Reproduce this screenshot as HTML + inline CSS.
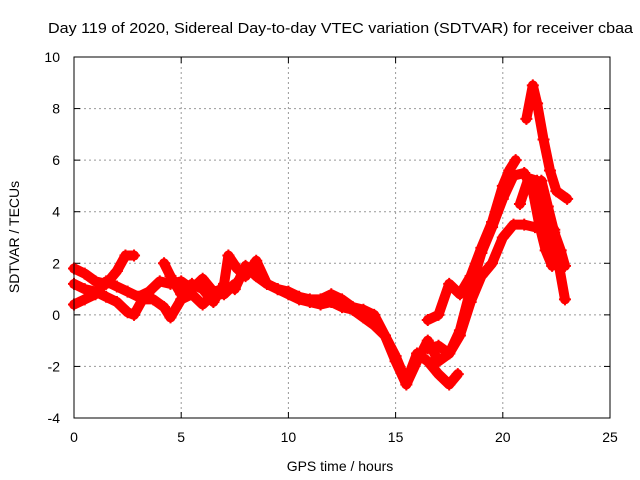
<!DOCTYPE html>
<html><head><meta charset="utf-8">
<style>
body{margin:0;background:#fff;}
svg{display:block;font-family:"Liberation Sans",sans-serif;}
</style></head>
<body>
<svg id="chart" width="640" height="480" viewBox="0 0 640 480">
<text x="48" y="33" font-size="15" textLength="585" lengthAdjust="spacingAndGlyphs" fill="#000">Day 119 of 2020, Sidereal Day-to-day VTEC variation (SDTVAR) for receiver cbaa</text>
<text x="340" y="471" font-size="14" text-anchor="middle">GPS time / hours</text>
<text transform="translate(19,237) rotate(-90)" font-size="14" text-anchor="middle">SDTVAR / TECUs</text>
<g id="grid"></g>
<g id="ticks"></g>
<g id="series"></g>
<rect x="74" y="57" width="536" height="361" fill="none" stroke="#000" stroke-width="1"/>
</svg>
<script>
const xTicks=[0,5,10,15,20,25];
const yTicks=[-4,-2,0,2,4,6,8,10];
const trackA=[[0,1.8],[0.5,1.6],[1,1.3],[1.5,1.2],[2,1.7],[2.4,2.3],[2.8,2.3]];
const trackB=[[0,0.4],[0.5,0.6],[1,0.8],[1.5,1.3],[2,1.1],[2.5,0.9],[3,0.7],[3.5,0.9],[4,1.3],[4.5,1.2],[5,1.3],[5.5,1.0],[6,1.4],[6.5,0.9],[7,1.0]];
const trackC=[[0,1.2],[0.5,1.0],[1,0.9],[1.5,0.7],[2,0.5],[2.5,0.1],[2.8,0.0],[3.2,0.6],[3.7,0.6],[4.2,0.3],[4.5,-0.1],[5,0.6],[5.5,0.8],[6,0.4],[6.5,0.8],[7,0.8],[7.5,1.2]];
const trackD=[[4.2,2.0],[4.5,1.5],[5,0.8],[5.5,1.2],[6,1.0],[6.5,0.5],[7,1.2],[7.2,2.3],[7.6,1.8],[8,1.5],[8.5,2.1],[9,1.2],[9.5,1.0],[10,0.8],[10.5,0.6],[11,0.5],[11.5,0.4],[12,0.5],[12.5,0.3],[13,0.2],[13.5,-0.1],[14,-0.4],[14.5,-0.8],[15,-1.6],[15.5,-2.6],[16,-1.5],[16.5,-1.8],[17,-2.3],[17.5,-2.7],[17.9,-2.3]];
const trackE=[[7.5,1.0],[8,1.9],[8.5,1.5],[9,1.2],[9.5,1.0],[10,0.9],[10.5,0.7],[11,0.6],[11.5,0.6],[12,0.8],[12.5,0.6],[13,0.3],[13.5,0.2],[14,0.0],[14.5,-0.8],[15,-1.8],[15.5,-2.7],[16,-1.8],[16.5,-1.0],[17,-1.8],[17.5,-1.5],[18,-0.8],[18.5,0.5],[19,1.5],[19.5,2.0],[20,3.0],[20.5,3.5],[21,3.5],[21.5,3.4],[22,3.7],[22.4,3.3]];
const trackF=[[16.5,-0.2],[17,0.0],[17.5,1.2],[18,0.8],[18.5,1.5],[19,2.6],[19.5,3.6],[20,5.0],[20.3,5.6],[20.6,6.0]];
const trackG=[[16.5,-1.3],[17,-1.2],[17.5,-1.5],[18,-0.6],[18.5,1.0],[19,2.4],[19.5,3.4],[20,4.5],[20.5,5.4],[21,5.5],[21.4,4.8],[21.7,3.5],[22,2.5],[22.3,1.9]];
const trackH=[[21.1,7.6],[21.4,8.9],[21.6,8.2],[21.9,6.8],[22.2,5.6],[22.5,4.8],[23,4.5]];
const trackI=[[20.8,4.3],[21.2,5.3],[21.6,5.2],[21.9,4.2],[22.2,3.0],[22.6,2.0],[22.9,0.6]];
const trackJ=[[21.8,5.2],[22.1,4.2],[22.4,3.2],[22.7,2.5],[22.9,1.9]];
const tracks=[trackA,trackB,trackC,trackD,trackE,trackF,trackG,trackH,trackI,trackJ];

const X0=74,X1=610,Y0=418,Y1=57;
function xs(t){return X0+(t-0)/(25-0)*(X1-X0);}
function ys(v){return Y0-(v-(-4))/(10-(-4))*(Y0-Y1);}
const NS="http://www.w3.org/2000/svg";
const grid=document.getElementById('grid'),ticks=document.getElementById('ticks'),ser=document.getElementById('series');
function mk(tag,attrs,parent){const e=document.createElementNS(NS,tag);for(const k in attrs)e.setAttribute(k,attrs[k]);parent.appendChild(e);return e;}
xTicks.forEach(t=>{
  const x=xs(t);
  if(t>0&&t<25){const g=mk('line',{x1:x,x2:x,y1:Y1,y2:Y0,stroke:'#999','stroke-dasharray':'2,3'},grid);
  
  }
  mk('line',{x1:x,x2:x,y1:Y0,y2:Y0-6,stroke:'#000'},ticks);
  mk('line',{x1:x,x2:x,y1:Y1,y2:Y1+6,stroke:'#000'},ticks);
  const l=mk('text',{x:x,y:Y0+24,'font-size':14,'text-anchor':'middle'},ticks);l.textContent=t;
  
  
});
yTicks.forEach(v=>{
  const y=ys(v);
  if(v>-4&&v<10){const g=mk('line',{x1:X0,x2:X1,y1:y,y2:y,stroke:'#999','stroke-dasharray':'2,3'},grid);
  
  }
  mk('line',{x1:X0,x2:X0+6,y1:y,y2:y,stroke:'#000'},ticks);
  mk('line',{x1:X1,x2:X1-6,y1:y,y2:y,stroke:'#000'},ticks);
  const l=mk('text',{x:X0-14,y:y+5,'font-size':14,'text-anchor':'end'},ticks);l.textContent=v;
  
  
});
tracks.forEach((tr,i)=>{
  const g=mk('g',{},ser);
  
  
  const pts=tr.map(p=>xs(p[0])+','+ys(p[1])).join(' ');
  mk('polyline',{points:pts,fill:'none',stroke:'#f00','stroke-width':10,'stroke-linejoin':'round','stroke-linecap':'round'},g);
  tr.forEach(p=>{
    const x=xs(p[0]),y=ys(p[1]);
    const m=mk('path',{d:`M${x-6},${y}H${x+6}M${x},${y-6}V${y+6}`,stroke:'#f00','stroke-width':2},g);
    
    
  });
});
</script>
</body></html>
